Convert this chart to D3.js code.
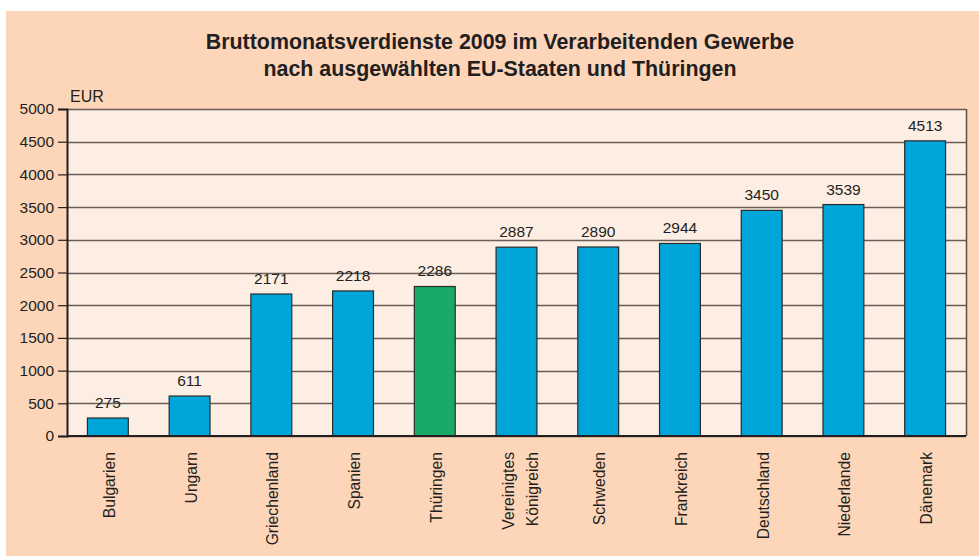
<!DOCTYPE html>
<meta charset="utf-8">
<script src="https://d3js.org/d3.v7.min.js"></script>
<style>
  body { margin: 0; background: #fff; }
  text { font-family: "Liberation Sans", Arial, sans-serif; fill: #231f20; }
</style>
<div id="my_dataviz"></div>
<script>
  // data
  var countries = ["Bulgarien", "Ungarn", "Griechenland", "Spanien", "Thüringen",
                   "Vereinigtes|Königreich", "Schweden", "Frankreich", "Deutschland",
                   "Niederlande", "Dänemark"];
  var earnings = [275, 611, 2171, 2218, 2286, 2887, 2890, 2944, 3450, 3539, 4513];
  var yTicks = [0, 500, 1000, 1500, 2000, 2500, 3000, 3500, 4000, 4500, 5000];
  var titleLines = ["Bruttomonatsverdienste 2009 im Verarbeitenden Gewerbe",
                    "nach ausgewählten EU-Staaten und Thüringen"];

  var W = 979, H = 557;
  var margin = {top: 109, right: 13, bottom: 121, left: 67},
      width = W - margin.left - margin.right,
      height = H - margin.top - margin.bottom;

  var svg = d3.select("#my_dataviz")
    .append("svg")
      .attr("width", W)
      .attr("height", H);

  // orange panel
  svg.append("rect")
    .attr("x", 6).attr("y", 11)
    .attr("width", 973).attr("height", 545)
    .attr("fill", "#fdd6ba");

  // title
  svg.selectAll(".title")
    .data(titleLines)
    .enter().append("text")
      .attr("x", 500)
      .attr("y", function(d, i) { return 49 + i * 27; })
      .attr("text-anchor", "middle")
      .style("font-size", "21.4px")
      .style("font-weight", "bold")
      .text(function(d) { return d; });

  var g = svg.append("g")
    .attr("transform", "translate(" + margin.left + "," + margin.top + ")");

  // plot background
  g.append("rect")
    .attr("width", width).attr("height", height)
    .attr("fill", "#fdeee4");

  var x = d3.scaleBand()
    .range([0, width])
    .domain(countries)
    .paddingInner(0.5)
    .paddingOuter(0.25);

  var y = d3.scaleLinear()
    .domain([0, 5000])
    .range([height, 0]);

  // gridlines
  g.selectAll(".grid")
    .data(yTicks)
    .enter().append("line")
      .attr("x1", 0).attr("x2", width)
      .attr("y1", function(d) { return Math.round(y(d)) + 0.5; })
      .attr("y2", function(d) { return Math.round(y(d)) + 0.5; })
      .attr("stroke", "#6a5d55")
      .attr("stroke-width", 1.3);

  // right frame
  g.append("line")
    .attr("x1", width + 0.5).attr("x2", width + 0.5)
    .attr("y1", 0).attr("y2", height)
    .attr("stroke", "#5a4e48").attr("stroke-width", 1.5);

  // bars
  g.selectAll(".bar")
    .data(earnings)
    .enter().append("rect")
      .attr("x", function(d, i) { return x(countries[i]); })
      .attr("y", function(d) { return y(d); })
      .attr("width", x.bandwidth())
      .attr("height", function(d) { return height - y(d); })
      .attr("fill", function(d, i) { return countries[i] === "Thüringen" ? "#18aa66" : "#00a5d9"; })
      .attr("stroke", "#2a2a2a")
      .attr("stroke-width", 1.2);

  // value labels
  g.selectAll(".val")
    .data(earnings)
    .enter().append("text")
      .attr("x", function(d, i) { return x(countries[i]) + x.bandwidth() / 2; })
      .attr("y", function(d) { return y(d) - 10; })
      .attr("text-anchor", "middle")
      .style("font-size", "15.5px")
      .text(function(d) { return d; });

  // y axis
  var yAxis = g.append("g")
    .call(d3.axisLeft(y).tickValues(yTicks).tickSize(9).tickPadding(4).tickFormat(d3.format("d")));
  yAxis.select(".domain").attr("stroke", "#231f20").attr("stroke-width", 2);
  yAxis.selectAll(".tick line").attr("stroke", "#231f20").attr("stroke-width", 1.2);
  yAxis.selectAll("text").style("font-size", "15.5px").attr("fill", "#231f20")
    .style("font-family", "'Liberation Sans', Arial, sans-serif");

  // x axis baseline
  g.append("line")
    .attr("x1", 0).attr("x2", width)
    .attr("y1", height).attr("y2", height)
    .attr("stroke", "#231f20").attr("stroke-width", 2);

  // category labels (rotated)
  var cat = g.selectAll(".cat")
    .data(countries)
    .enter().append("g")
      .attr("transform", function(d) {
        return "translate(" + (x(d) + x.bandwidth() / 2) + "," + (height + 16) + ") rotate(-90)";
      });
  cat.each(function(d) {
    var lines = d.split("|");
    var sel = d3.select(this);
    lines.forEach(function(l, i) {
      sel.append("text")
        .attr("x", 0)
        .attr("y", lines.length > 1 ? (i - 0.5) * 24 + 9 : 7)
        .attr("text-anchor", "end")
        .style("font-size", "15.7px")
        .text(l);
    });
  });

  // EUR unit
  svg.append("text")
    .attr("x", 70).attr("y", 102)
    .style("font-size", "16px")
    .text("EUR");
</script>
